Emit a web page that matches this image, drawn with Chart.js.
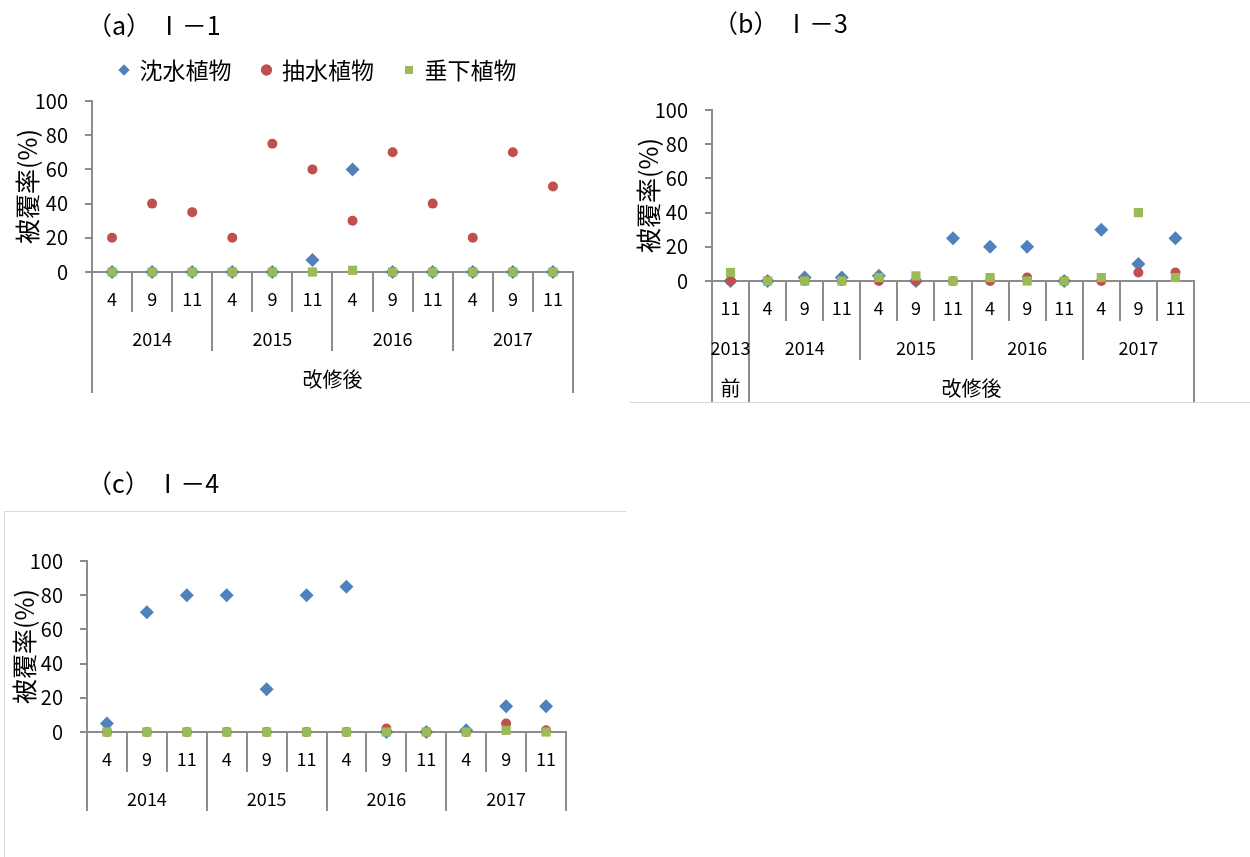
<!DOCTYPE html>
<html>
<head>
<meta charset="utf-8">
<script src="https://cdn.jsdelivr.net/npm/chart.js@4.4.1/dist/chart.umd.min.js"></script>
<style>
  html, body { margin: 0; padding: 0; background: #fff; }
  body { width: 1250px; height: 857px; position: relative; overflow: hidden; }
  .panel { position: absolute; }
  .frame { position: absolute; border: 0 solid #d9d9d9; box-sizing: border-box; }
</style>
</head>
<body>
<div class="frame" style="left:630px; top:402px; width:620px; height:1px; border-top-width:1px;"></div>
<div class="frame" style="left:4px; top:511px; width:622px; height:346px; border-top-width:1px; border-left-width:1px;"></div>

<div class="panel" style="left:0; top:0; width:620px; height:400px;"><canvas id="chartA"></canvas></div>
<div class="panel" style="left:620px; top:0; width:630px; height:410px;"><canvas id="chartB"></canvas></div>
<div class="panel" style="left:0; top:460px; width:620px; height:397px;"><canvas id="chartC"></canvas></div>

<script>
// ---- data -------------------------------------------------------------
const seriesNames = ['沈水植物', '抽水植物', '垂下植物'];

// Ⅰ－1
const monthsA = ['4', '9', '11', '4', '9', '11', '4', '9', '11', '4', '9', '11'];
const yearsA = ['2014', '2015', '2016', '2017'];
const yearSpansA = [3, 3, 3, 3];
const phasesA = ['改修後'];
const phaseSpansA = [12];
const submergedA = [0, 0, 0, 0, 0, 7, 60, 0, 0, 0, 0, 0];
const emergentA = [20, 40, 35, 20, 75, 60, 30, 70, 40, 20, 70, 50];
const pendentA = [0, 0, 0, 0, 0, 0, 1, 0, 0, 0, 0, 0];

// Ⅰ－3
const monthsB = ['11', '4', '9', '11', '4', '9', '11', '4', '9', '11', '4', '9', '11'];
const yearsB = ['2013', '2014', '2015', '2016', '2017'];
const yearSpansB = [1, 3, 3, 3, 3];
const phasesB = ['前', '改修後'];
const phaseSpansB = [1, 12];
const submergedB = [0, 0, 2, 2, 3, 0, 25, 20, 20, 0, 30, 10, 25];
const emergentB = [0, 0, 0, 0, 0, 0, 0, 0, 2, 0, 0, 5, 5];
const pendentB = [5, 0, 0, 0, 2, 3, 0, 2, 0, 0, 2, 40, 2];

// Ⅰ－4
const monthsC = ['4', '9', '11', '4', '9', '11', '4', '9', '11', '4', '9', '11'];
const yearsC = ['2014', '2015', '2016', '2017'];
const yearSpansC = [3, 3, 3, 3];
const submergedC = [5, 70, 80, 80, 25, 80, 85, 0, 0, 1, 15, 15];
const emergentC = [0, 0, 0, 0, 0, 0, 0, 2, 0, 0, 5, 1];
const pendentC = [0, 0, 0, 0, 0, 0, 0, 0, 0, 0, 1, 0];

const yTicks = [0, 20, 40, 60, 80, 100];

// ---- styling ----------------------------------------------------------
const FONT = '"Noto Sans CJK JP", "Noto Sans", sans-serif';
const AXIS = '#8c8c8c';
const COLORS = ['#4F81BD', '#C0504D', '#9BBB59'];

// Multi-level category labels with Excel-style separators under the x axis
const groupedAxis = {
  id: 'groupedAxis',
  afterDraw(chart, args, opts) {
    const xs = chart.scales.x;
    const n = chart.data.labels.length;
    const w = xs.getPixelForValue(1) - xs.getPixelForValue(0);
    const bound = i => (i < n ? xs.getPixelForValue(i) - w / 2 : xs.getPixelForValue(n - 1) + w / 2);
    const y0 = xs.top;
    const levels = [{ labels: chart.data.labels, spans: chart.data.labels.map(() => 1) }];
    (opts.groups || []).forEach(g => levels.push(g));

    // depth of each boundary = deepest level whose groups break there
    const depthLevel = new Array(n + 1).fill(0);
    levels.forEach((lv, li) => {
      let pos = 0;
      depthLevel[0] = Math.max(depthLevel[0], li);
      lv.spans.forEach(s => { pos += s; depthLevel[pos] = Math.max(depthLevel[pos], li); });
    });

    const ctx = chart.ctx;
    ctx.save();
    ctx.strokeStyle = AXIS;
    ctx.lineWidth = 2;
    for (let i = 0; i <= n; i++) {
      const x = Math.round(bound(i));
      ctx.beginPath();
      ctx.moveTo(x, y0);
      ctx.lineTo(x, y0 + opts.depths[depthLevel[i]]);
      ctx.stroke();
    }
    ctx.fillStyle = '#000';
    ctx.textAlign = 'center';
    ctx.textBaseline = 'middle';
    levels.forEach((lv, li) => {
      ctx.font = opts.fontSizes[li] + 'px ' + FONT;
      let pos = 0;
      lv.labels.forEach((lab, k) => {
        const s = lv.spans[k];
        const cx = (bound(pos) + bound(pos + s)) / 2;
        ctx.fillText(lab, cx, y0 + opts.labelOffsets[li]);
        pos += s;
      });
    });
    ctx.restore();
  }
};

// Panel caption drawn on the canvas
const panelTitle = {
  id: 'panelTitle',
  afterDraw(chart, args, opts) {
    if (!opts.text) return;
    const ctx = chart.ctx;
    ctx.save();
    ctx.font = opts.size + 'px ' + FONT;
    ctx.fillStyle = '#000';
    ctx.textAlign = 'left';
    ctx.textBaseline = 'middle';
    ctx.fillText(opts.text, opts.x, opts.y);
    ctx.restore();
  }
};

// Places the legend row at a fixed spot above the plot
const legendPlacement = {
  id: 'legendPlacement',
  afterLayout(chart, args, opts) {
    const lg = chart.legend;
    if (!lg || opts.x == null) return;
    const pad = lg.options.labels.padding;
    const fontSize = lg.options.labels.font.size;
    const h = lg.height;
    lg.left = opts.x - pad;
    lg.top = opts.y - pad - fontSize / 2;
    lg.bottom = lg.top + h;
  }
};

function makeDatasets(sub, emer, pend) {
  const base = { showLine: false, borderWidth: 0, clip: false, pointHoverRadius: 7 };
  return [
    Object.assign({}, base, { label: seriesNames[0], data: sub, pointStyle: 'rectRot', pointRadius: 7,
      backgroundColor: COLORS[0], borderColor: COLORS[0], order: 2 }),
    Object.assign({}, base, { label: seriesNames[1], data: emer, pointStyle: 'circle', pointRadius: 5,
      backgroundColor: COLORS[1], borderColor: COLORS[1], order: 1 }),
    Object.assign({}, base, { label: seriesNames[2], data: pend, pointStyle: 'rect', pointRadius: 6.5,
      backgroundColor: COLORS[2], borderColor: COLORS[2], order: 0 })
  ];
}

function makeChart(id, cfg) {
  return new Chart(document.getElementById(id), {
    type: 'line',
    data: { labels: cfg.months, datasets: makeDatasets(cfg.sub, cfg.emer, cfg.pend) },
    options: {
      responsive: true,
      maintainAspectRatio: false,
      animation: false,
      events: [],
      layout: { padding: cfg.padding },
      scales: {
        x: {
          type: 'category',
          offset: true,
          grid: { display: false, drawTicks: false },
          ticks: { display: false },
          border: { display: true, color: AXIS, width: 2 },
          afterFit(scale) { scale.height = 0; }
        },
        y: {
          min: 0,
          max: 100,
          afterBuildTicks(scale) { scale.ticks = yTicks.map(v => ({ value: v })); },
          ticks: { padding: 17, color: '#000', font: { family: FONT, size: 20 } },
          grid: { drawOnChartArea: false, drawTicks: true, tickLength: 7, color: AXIS, lineWidth: 2 },
          border: { display: true, color: AXIS, width: 2 },
          title: { display: true, text: '被覆率(%)', color: '#000', font: { family: FONT, size: 25 },
                   padding: { top: cfg.yTitlePad, bottom: 0 } },
          afterFit(scale) { scale.width = cfg.yWidth; }
        }
      },
      plugins: {
        tooltip: { enabled: false },
        legend: cfg.legend ? {
          display: true,
          position: 'top',
          align: 'start',
          labels: {
            usePointStyle: true, boxWidth: 8, boxHeight: 8, padding: 31, color: '#000',
            font: { family: FONT, size: 23 },
            sort: (a, b) => a.datasetIndex - b.datasetIndex
          }
        } : { display: false },
        legendPlacement: cfg.legend || {},
        groupedAxis: {
          groups: cfg.groups,
          depths: [40, 79, 121],
          labelOffsets: [27, 67, 107],
          fontSizes: [18, 18, 20]
        },
        panelTitle: cfg.title
      }
    },
    plugins: [legendPlacement, groupedAxis, panelTitle]
  });
}

makeChart('chartA', {
  months: monthsA, sub: submergedA, emer: emergentA, pend: pendentA,
  padding: { left: 0, top: 37, right: 47, bottom: 128 },
  yWidth: 92, yTitlePad: 12,
  legend: { x: 120, y: 70 },
  groups: [{ labels: yearsA, spans: yearSpansA }, { labels: phasesA, spans: phaseSpansA }],
  title: { text: '（a） Ⅰ－1', x: 87, y: 25, size: 25 }
});

makeChart('chartB', {
  months: monthsB, sub: submergedB, emer: emergentB, pend: pendentB,
  padding: { left: 0, top: 110, right: 56, bottom: 129 },
  yWidth: 92, yTitlePad: 13,
  legend: null,
  groups: [{ labels: yearsB, spans: yearSpansB }, { labels: phasesB, spans: phaseSpansB }],
  title: { text: '（b） Ⅰ－3', x: 93, y: 23, size: 25 }
});

makeChart('chartC', {
  months: monthsC, sub: submergedC, emer: emergentC, pend: pendentC,
  padding: { left: 0, top: 101, right: 54, bottom: 125 },
  yWidth: 87, yTitlePad: 9,
  legend: null,
  groups: [{ labels: yearsC, spans: yearSpansC }],
  title: { text: '（c） Ⅰ－4', x: 87, y: 23, size: 25 }
});
</script>
</body>
</html>
